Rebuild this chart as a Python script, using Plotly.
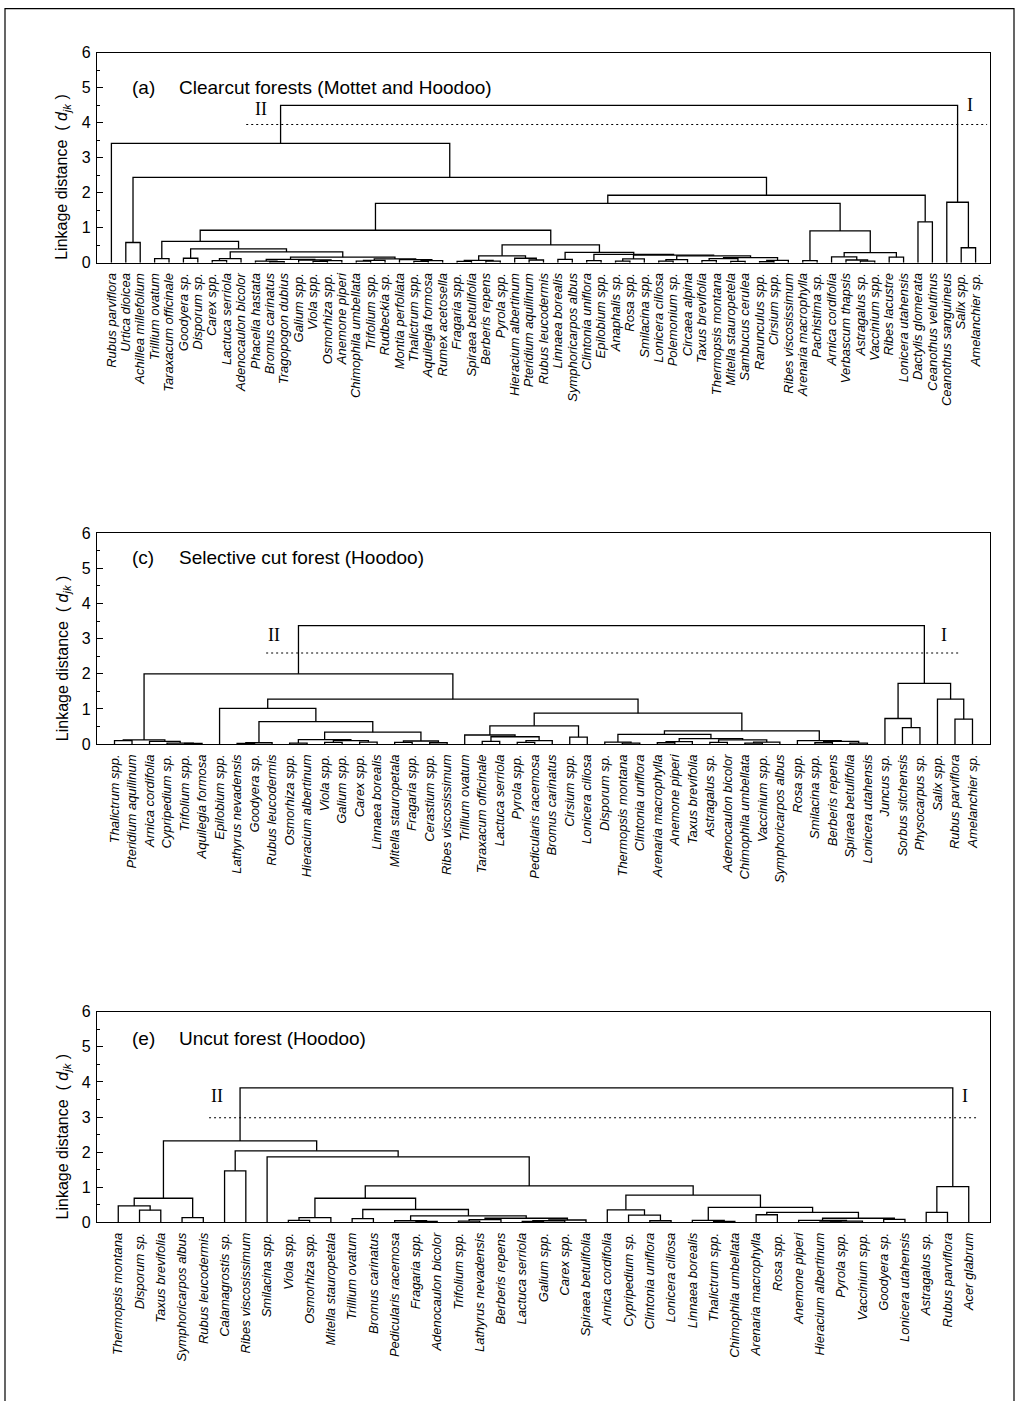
import plotly.graph_objects as go

FONT = "Arial, Liberation Sans, Helvetica, sans-serif"
SERIF = "Times New Roman, Liberation Serif, serif"

# ---------------------------------------------------------------------------
# Data: leaf order of each dendrogram and the linkage distance at which each
# pair of neighbouring leaves first ends up in the same cluster.
# (gap k = merge height between leaf k and leaf k+1)
# ---------------------------------------------------------------------------
leaves_a = [
    "Rubus parviflora", "Urtica dioicea", "Achillea millefolium", "Trillium ovatum",
    "Taraxacum officinale", "Goodyera sp.", "Disporum sp.", "Carex spp.",
    "Lactuca serriola", "Adenocaulon bicolor", "Phacelia hastata", "Bromus carinatus",
    "Tragopogon dubius", "Galium spp.", "Viola spp.", "Osmorhiza spp.",
    "Anemone piperi", "Chimophila umbellata", "Trifolium spp.", "Rudbeckia sp.",
    "Montia perfoliata", "Thalictrum spp.", "Aquilegia formosa", "Rumex acetosella",
    "Fragaria spp.", "Spiraea betulifolia", "Berberis repens", "Pyrola spp.",
    "Hieracium albertinum", "Pteridium aquilinum", "Rubus leucodermis", "Linnaea borealis",
    "Symphoricarpos albus", "Clintonia uniflora", "Epilobium spp.", "Anaphalis sp.",
    "Rosa spp.", "Smilacina spp.", "Lonicera ciliosa", "Polemonium sp.",
    "Circaea alpina", "Taxus brevifolia", "Thermopsis montana", "Mitella stauropetela",
    "Sambucus cerulea", "Ranunculus spp.", "Cirsium spp.", "Ribes viscosissimum",
    "Arenaria macrophylla", "Pachistima sp.", "Arnica cordifolia", "Verbascum thapsis",
    "Astragalus sp.", "Vaccinium spp.", "Ribes lacustre", "Lonicera utahensis",
    "Dactylis glomerata", "Ceanothus velutinus", "Ceanothus sanguineus", "Salix spp.",
    "Amelanchier sp.",
]
gaps_a = [
    3.41, 0.58, 2.44, 0.12, 0.61, 0.13, 0.40, 0.06, 0.12, 0.31,
    0.05, 0.03, 0.10, 0.08, 0.04, 0.06, 0.16, 0.05, 0.07, 0.11,
    0.09, 0.04, 0.06, 0.93, 0.04, 0.07, 0.05, 0.20, 0.13, 0.08,
    0.51, 0.10, 0.30, 0.06, 0.24, 0.05, 0.11, 0.22, 0.05, 0.09,
    0.20, 0.06, 0.12, 0.04, 0.15, 0.03, 0.07, 1.70, 0.06, 0.91,
    0.17, 0.08, 0.05, 0.29, 0.16, 1.93, 1.17, 4.50, 1.73, 0.43,
]
cut_a = 3.95

leaves_c = [
    "Thalictrum spp.", "Pteridium aquilinum", "Arnica cordifolia", "Cypripedium sp.",
    "Trifolium spp.", "Aquilegia formosa", "Epilobium spp.", "Lathyrus nevadensis",
    "Goodyera sp.", "Rubus leucodermis", "Osmorhiza spp.", "Hieracium albertinum",
    "Viola spp.", "Galium spp.", "Carex spp.", "Linnaea borealis",
    "Mitella stauropetala", "Fragaria spp.", "Cerastium spp.", "Ribes viscosissimum",
    "Trillium ovatum", "Taraxacum officinale", "Lactuca serriola", "Pyrola spp.",
    "Pedicularis racemosa", "Bromus carinatus", "Cirsium spp.", "Lonicera ciliosa",
    "Disporum sp.", "Thermopsis montana", "Clintonia uniflora", "Arenaria macrophylla",
    "Anemone piperi", "Taxus brevifolia", "Astragalus sp.", "Adenocaulon bicolor",
    "Chimophila umbellata", "Vaccinium spp.", "Symphoricarpos albus", "Rosa spp.",
    "Smilacina spp.", "Berberis repens", "Spiraea betulifolia", "Lonicera utahensis",
    "Juncus sp.", "Sorbus sitchensis", "Physocarpus sp.", "Salix spp.",
    "Rubus parviflora", "Amelanchier sp.",
]
gaps_c = [
    0.10, 0.12, 0.08, 0.03, 0.02, 2.00, 1.02, 0.02, 0.04, 0.64,
    0.03, 0.13, 0.05, 0.10, 0.06, 0.34, 0.05, 0.09, 0.04, 1.28,
    0.26, 0.08, 0.21, 0.05, 0.10, 0.52, 0.20, 0.88, 0.06, 0.03,
    0.28, 0.04, 0.07, 0.16, 0.05, 0.12, 0.03, 0.06, 0.38, 0.10,
    0.04, 0.08, 0.03, 3.37, 0.73, 0.47, 1.73, 1.28, 0.71,
]
cut_c = 2.59

leaves_e = [
    "Thermopsis montana", "Disporum sp.", "Taxus brevifolia", "Symphoricarpos albus",
    "Rubus leucodermis", "Calamagrostis sp.", "Ribes viscosissimum", "Smilacina spp.",
    "Viola spp.", "Osmorhiza spp.", "Mitella stauropetala", "Trillium ovatum",
    "Bromus carinatus", "Pedicularis racemosa", "Fragaria spp.", "Adenocaulon bicolor",
    "Trifolium spp.", "Lathyrus nevadensis", "Berberis repens", "Lactuca serriola",
    "Galium spp.", "Carex spp.", "Spiraea betulifolia", "Arnica cordifolia",
    "Cypripedium sp.", "Clintonia uniflora", "Lonicera ciliosa", "Linnaea borealis",
    "Thalictrum spp.", "Chimophila umbellata", "Arenaria macrophylla", "Rosa spp.",
    "Anemone piperi", "Hieracium albertinum", "Pyrola spp.", "Vaccinium spp.",
    "Goodyera sp.", "Lonicera utahensis", "Astragalus sp.", "Rubus parviflora",
    "Acer glabrum",
]
gaps_e = [
    0.47, 0.35, 0.69, 0.14, 2.32, 1.47, 2.04, 1.87, 0.06, 0.14,
    0.69, 0.11, 0.37, 0.05, 0.03, 0.19, 0.04, 0.08, 0.12, 0.03,
    0.05, 0.07, 1.04, 0.36, 0.21, 0.05, 0.78, 0.06, 0.03, 0.43,
    0.22, 0.29, 0.06, 0.02, 0.04, 0.12, 0.09, 3.83, 0.29, 1.02,
]
cut_e = 2.98

y_ticks = [0, 1, 2, 3, 4, 5, 6]


def dendrogram_path(gaps, lo, hi, xs, ys):
    """Recursively split the leaf range at its highest gap and collect the
    U-shaped links; returns the (x, height) of the cluster's node."""
    if lo == hi:
        return float(lo), 0.0
    sub = gaps[lo:hi]
    j = lo + max(range(len(sub)), key=lambda k: sub[k])
    xl, hl = dendrogram_path(gaps, lo, j, xs, ys)
    xr, hr = dendrogram_path(gaps, j + 1, hi, xs, ys)
    h = gaps[j]
    xs += [xl, xl, xr, xr, None]
    ys += [hl, h, h, hr, None]
    return (xl + xr) / 2.0, h


# page geometry (pixel positions on the page -> paper fractions);
# the canvas is placed slightly lower and vertically condensed on the page
W, H = 1020, 1401
Y0, YS = 7.9, 0.9878


def px(x):
    return x / W


def py(y):
    return 1 - ((y - Y0) / YS) / H


X_DOMAIN = [px(97), px(990)]

panels = [
    dict(leaves=leaves_a, gaps=gaps_a, cut=cut_a, tag="(a)",
         title="Clearcut forests (Mottet and Hoodoo)",
         top=52.7, bottom=262.7, title_y=87, cut_span=(9.36, 60.8),
         pos_II=(10.4, 4.40), pos_I=(59.6, 4.50)),
    dict(leaves=leaves_c, gaps=gaps_c, cut=cut_c, tag="(c)",
         title="Selective cut forest (Hoodoo)",
         top=533.0, bottom=744.0, title_y=557, cut_span=(8.66, 48.3),
         pos_II=(9.11, 3.09), pos_I=(47.4, 3.11)),
    dict(leaves=leaves_e, gaps=gaps_e, cut=cut_e, tag="(e)",
         title="Uncut forest (Hoodoo)",
         top=1011.5, bottom=1222.3, title_y=1038, cut_span=(4.27, 40.4),
         pos_II=(4.64, 3.61), pos_I=(39.83, 3.61)),
]

fig = go.Figure()
annotations = []
layout_axes = {}
n_panels = len(panels)

for i, p in enumerate(panels):
    s = "" if i == 0 else str(i + 1)
    s_right = str(n_panels + i + 1)
    n = len(p["leaves"])
    xs, ys = [], []
    dendrogram_path(p["gaps"], 0, n - 1, xs, ys)

    fig.add_trace(go.Scatter(
        x=xs, y=ys, mode="lines", line=dict(color="black", width=1.3),
        xaxis="x" + s, yaxis="y" + s, hoverinfo="skip", showlegend=False))
    fig.add_trace(go.Scatter(
        x=list(p["cut_span"]), y=[p["cut"], p["cut"]], mode="lines",
        line=dict(color="black", width=1.1, dash="2px,3px"),
        xaxis="x" + s, yaxis="y" + s, hoverinfo="skip", showlegend=False))

    dom = [py(p["bottom"]), py(p["top"])]
    layout_axes["xaxis" + s] = dict(
        domain=X_DOMAIN, range=[-1, n], anchor="y" + s,
        tickmode="array", tickvals=list(range(n)), ticktext=p["leaves"],
        tickangle=-90, ticks="", ticklabelstandoff=4,
        tickfont=dict(family=FONT, size=13, color="black", style="italic"),
        showline=True, mirror=True, linecolor="black", linewidth=1.2,
        showgrid=False, zeroline=False, fixedrange=True)
    layout_axes["yaxis" + s] = dict(
        domain=dom, range=[0, 6], anchor="x" + s,
        tickmode="array", tickvals=y_ticks, ticks="inside", ticklen=6,
        tickcolor="black", tickwidth=1,
        minor=dict(dtick=0.5, tick0=0, ticks="inside", ticklen=3,
                   tickcolor="black", showgrid=False),
        tickfont=dict(family=FONT, size=16, color="black"),
        ticklabelstandoff=2,
        showline=True, mirror=True, linecolor="black", linewidth=1.2,
        showgrid=False, zeroline=False, fixedrange=True)
    # right-hand scale: tick marks only, pointing into the plot
    layout_axes["yaxis" + s_right] = dict(
        overlaying="y" + s, side="right", anchor="x" + s, range=[0, 6],
        tickmode="array", tickvals=y_ticks, ticks="inside", ticklen=6,
        tickcolor="black", tickwidth=1, showticklabels=False,
        minor=dict(dtick=0.5, tick0=0, ticks="inside", ticklen=3,
                   tickcolor="black", showgrid=False),
        showline=False, showgrid=False, zeroline=False, fixedrange=True)

    # panel heading
    annotations.append(dict(
        text=p["tag"], xref="paper", yref="paper", x=px(130), y=py(p["title_y"]),
        xanchor="left", yanchor="middle", showarrow=False,
        font=dict(family=FONT, size=19, color="black")))
    annotations.append(dict(
        text=p["title"], xref="paper", yref="paper", x=px(177), y=py(p["title_y"]),
        xanchor="left", yanchor="middle", showarrow=False,
        font=dict(family=FONT, size=19, color="black")))
    # y-axis title
    annotations.append(dict(
        text="Linkage distance  ( <i>d</i><sub><i>jk</i></sub> )",
        xref="paper", yref="paper", x=px(63), y=py(p["bottom"] - 86),
        xanchor="center", yanchor="middle", textangle=-90, showarrow=False,
        font=dict(family=FONT, size=16, color="black")))
    # group labels
    for txt, (gx, gy) in (("II", p["pos_II"]), ("I", p["pos_I"])):
        annotations.append(dict(
            text=txt, xref="x" + s, yref="y" + s, x=gx, y=gy,
            xanchor="center", yanchor="middle", showarrow=False,
            font=dict(family=SERIF, size=18, color="black")))

fig.update_layout(
    width=W, height=H, autosize=False,
    margin=dict(l=0, r=0, t=0, b=0, pad=0),
    paper_bgcolor="white", plot_bgcolor="white",
    showlegend=False, annotations=annotations,
    shapes=[dict(type="rect", xref="paper", yref="paper",
                 x0=px(5), x1=px(1014), y0=-0.05, y1=1 - 0.7 / H,
                 line=dict(color="black", width=1.2), fillcolor="rgba(0,0,0,0)")],
    **layout_axes,
)

fig.write_html("out.html")
